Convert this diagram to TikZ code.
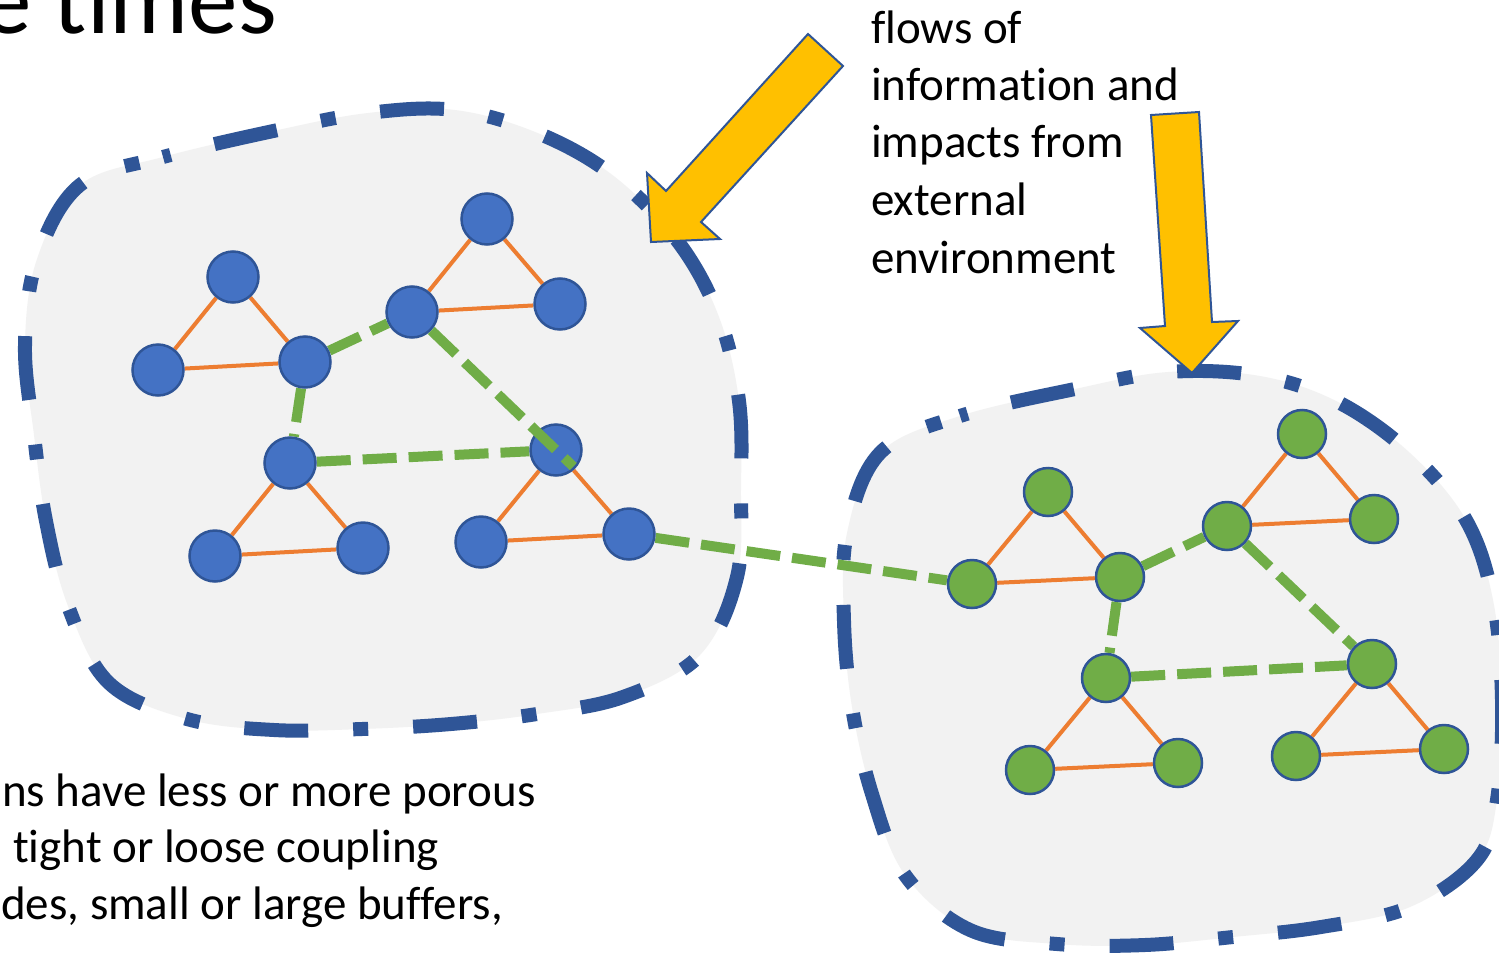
\documentclass[tikz,border=0pt]{standalone}
\usepackage{fontspec}
\setmainfont{Carlito}[Ligatures=NoCommon]
\usetikzlibrary{calc}
\definecolor{blobline}{HTML}{2F5597}
\definecolor{blobfill}{HTML}{F2F2F2}
\definecolor{nodeblue}{HTML}{4472C4}
\definecolor{nodegreen}{HTML}{70AD47}
\definecolor{edgeorange}{HTML}{ED7D31}
\definecolor{arrowyellow}{HTML}{FFC000}
\pgfdeclarelayer{blobs}
\pgfdeclarelayer{edges}
\pgfsetlayers{blobs,edges,main}
\begin{document}
\begin{tikzpicture}[x=1pt,y=-1pt,
  blob/.style={fill=blobfill, draw=blobline, line width=14pt, dash pattern=on 15pt off 45pt on 64pt off 45pt, dash phase=7pt},
  bnode/.style={circle, minimum size=51pt, inner sep=0pt, fill=nodeblue, draw=blobline, line width=2.5pt},
  gnode/.style={circle, minimum size=48pt, inner sep=0pt, fill=nodegreen, draw=blobline, line width=2.5pt},
  tri/.style={draw=edgeorange, line width=4pt},
  link/.style={draw=nodegreen, line width=10pt, dash pattern=on 34pt off 12pt},
  bigarrow/.style={fill=arrowyellow, draw=blobline, line width=2pt, line join=miter},
  txt/.style={anchor=base west, inner sep=0pt, font=\fontsize{47}{57.5}\selectfont},
]
\useasboundingbox (0,0) rectangle (1499,953);

\begin{pgfonlayer}{blobs}
\fill[white] (0,0) rectangle (1499,953);
\path[blob] plot[smooth cycle, tension=0.6] coordinates {
 (80,185) (163,157) (278,130) (368,113) (455,110) (540,134) (615,177) (679,243)
 (719,317) (739,401) (741,488) (737,577) (700,655) (623,697) (537,714) (451,724)
 (362,729) (274,730) (187,719) (109,683) (68,606) (46,521) (34,435) (25,346) (37,259)};
\path[blob] plot[smooth cycle, tension=0.6] coordinates {
 (880,453) (960,416) (1075,389) (1168,372) (1260,376) (1338,402) (1410,453) (1466,520)
 (1493,600) (1502,700) (1497,800) (1477,860) (1410,907) (1321,927) (1233,937) (1145,945)
 (1057,944) (970,930) (905,875) (872,794) (852,707) (844,621) (847,533)};
\end{pgfonlayer}

% left cluster
\node[bnode] (A1) at (233,277) {};
\node[bnode] (A2) at (158,370) {};
\node[bnode] (A3) at (305,362) {};
\node[bnode] (B1) at (487,219) {};
\node[bnode] (B2) at (412,312) {};
\node[bnode] (B3) at (560,304) {};
\node[bnode] (C1) at (290,463) {};
\node[bnode] (C2) at (215,556) {};
\node[bnode] (C3) at (363,548) {};
\node[bnode] (D1) at (556,450) {};
\node[bnode] (D2) at (481,542) {};
\node[bnode] (D3) at (629,534) {};
% right cluster
\node[gnode] (E1) at (1048,492) {};
\node[gnode] (E2) at (972,584) {};
\node[gnode] (E3) at (1120,577) {};
\node[gnode] (F1) at (1302,434) {};
\node[gnode] (F2) at (1227,526) {};
\node[gnode] (F3) at (1374,519) {};
\node[gnode] (G1) at (1106,678) {};
\node[gnode] (G2) at (1030,770) {};
\node[gnode] (G3) at (1178,763) {};
\node[gnode] (H1) at (1372,664) {};
\node[gnode] (H2) at (1296,756) {};
\node[gnode] (H3) at (1444,749) {};

\begin{pgfonlayer}{edges}
\foreach \t in {A,B,C,D,E,F,G,H}{
  \draw[tri] (\t1) -- (\t2);
  \draw[tri] (\t2) -- (\t3);
  \draw[tri] (\t3) -- (\t1);
}
\draw[link] (A3) -- (B2);
\draw[link] (A3) -- (C1);
\draw[link] (C1) -- (D1);
\draw[link] (D3) -- (E2);
\draw[link] (E3) -- (F2);
\draw[link] (E3) -- (G1);
\draw[link] (G1) -- (H1);
\draw[link] (F2) -- (H1);
\end{pgfonlayer}
\coordinate (Dend) at ($(B2.center)!1.12!(D1.center)$);
\draw[link] (B2) -- (Dend);

% arrows
\draw[bigarrow] (808,34) -- (843,66) -- (701,222) -- (720,239) -- (651,242) -- (647,173) -- (666,191) -- cycle;
\draw[bigarrow] (1151,115) -- (1199,112) -- (1212,322) -- (1238,321) -- (1192,373) -- (1140,328) -- (1165,326) -- cycle;

% texts
\node[anchor=base east, inner sep=0pt, font=\fontsize{99}{110}\selectfont] (title) at (277,33) {e times};
\node[txt] (r1) at (871,43) {flows of};
\node[txt] (r2) at (871,100) {information and};
\node[txt] (r3) at (871,157) {impacts from};
\node[txt] (r4) at (871,215) {external};
\node[txt] (r5) at (871,273) {environment};
\node[txt] (l1) at (2,806) {ns have less or more porous};
\node[txt] (l2) at (13,862) {tight or loose coupling};
\node[txt] (l3) at (1,919) {des, small or large buffers,};
\end{tikzpicture}
\end{document}
